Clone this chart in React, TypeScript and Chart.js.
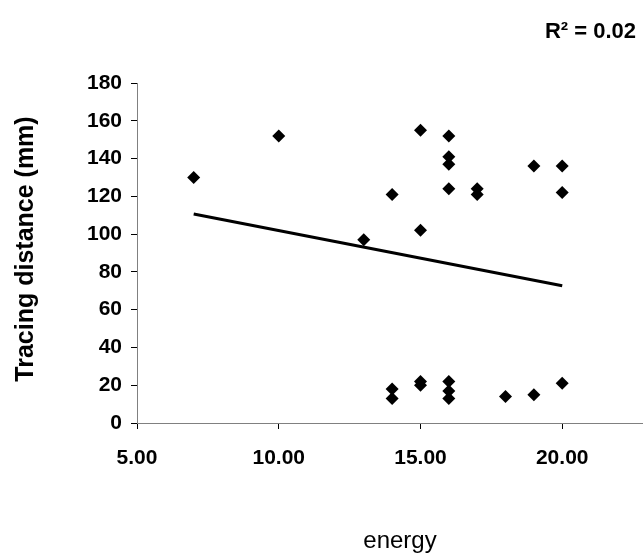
import React, { useEffect, useRef } from "react";
import { Chart, registerables } from "chart.js";

Chart.register(...registerables);

const energy = [7, 10, 13, 14, 14, 14, 15, 15, 15, 15, 16, 16, 16, 16, 16, 16, 16, 17, 17, 18, 19, 19, 20, 20, 20];
const tracingDistance = [130, 152, 97, 121, 18, 13, 155, 102, 22, 20, 152, 141, 137, 124, 22, 17, 13, 124, 121, 14, 136, 15, 136, 122, 21];
const trendEnergy = [7, 20];
const trendDistance = [110.6, 72.7];
const rSquaredLabel = "R² = 0.02";
const yTitle = "Tracing distance (mm)";
const xTitle = "energy";

const FONT = '"Liberation Sans", Arial, sans-serif';

const titlesPlugin = {
  id: "titlesPlugin",
  afterDraw(chart: any) {
    const ctx = chart.ctx;
    ctx.save();
    ctx.fillStyle = "#000";
    ctx.font = `bold 22px ${FONT}`;
    ctx.textAlign = "right";
    ctx.textBaseline = "alphabetic";
    ctx.fillText(rSquaredLabel, 636, 38);

    ctx.font = `24px ${FONT}`;
    ctx.textAlign = "center";
    ctx.fillText(xTitle, 400, 548);

    ctx.translate(33, 249);
    ctx.rotate(-Math.PI / 2);
    ctx.font = `bold 25px ${FONT}`;
    ctx.textAlign = "center";
    ctx.fillText(yTitle, 0, 0);
    ctx.restore();
  },
};

export default function App() {
  const ref = useRef<HTMLCanvasElement | null>(null);
  useEffect(() => {
    if (!ref.current) return;
    const chart = new Chart(ref.current, {
      type: "scatter",
      data: {
        datasets: [
          {
            label: "data",
            data: energy.map((x, i) => ({ x, y: tracingDistance[i] })),
            backgroundColor: "#000",
            borderColor: "#000",
            pointStyle: "rectRot",
            pointRadius: 6.5,
            pointBorderWidth: 0,
            showLine: false,
          },
          {
            label: "trend",
            data: trendEnergy.map((x, i) => ({ x, y: trendDistance[i] })),
            borderColor: "#000",
            backgroundColor: "#000",
            borderWidth: 3,
            pointRadius: 0,
            showLine: true,
          } as any,
        ],
      },
      options: {
        responsive: false,
        animation: false,
        layout: { autoPadding: false, padding: { top: 83, left: 0, right: 0, bottom: 0 } },
        plugins: {
          legend: { display: false },
          tooltip: { enabled: false },
        },
        scales: {
          x: {
            type: "linear",
            min: 5,
            max: 22.85,
            afterFit: (s: any) => {
              s.height = 137;
              s.paddingRight = 0;
              s.paddingLeft = 0;
            },
            ticks: {
              stepSize: 5,
              includeBounds: false,
              padding: 17,
              color: "#000",
              font: { family: FONT, size: 21, weight: "bold" },
              callback: (v: any) => Number(v).toFixed(2),
            },
            grid: {
              drawOnChartArea: false,
              drawTicks: true,
              tickLength: 6,
              color: "#000",
            },
            border: { color: "#808080", width: 1 },
          },
          y: {
            type: "linear",
            min: 0,
            max: 180,
            afterFit: (s: any) => {
              s.width = 137;
            },
            ticks: {
              stepSize: 20,
              padding: 9,
              color: "#000",
              font: { family: FONT, size: 21, weight: "bold" },
            },
            grid: {
              drawOnChartArea: false,
              drawTicks: true,
              tickLength: 6,
              color: "#000",
            },
            border: { color: "#808080", width: 1 },
          },
        },
      },
      plugins: [titlesPlugin],
    });
    return () => chart.destroy();
  }, []);
  return (
    <div style={{ position: "fixed", left: 0, top: 0, width: 643, height: 560, background: "#fff" }}>
      <canvas ref={ref} width={643} height={560} style={{ display: "block" }} />
    </div>
  );
}
